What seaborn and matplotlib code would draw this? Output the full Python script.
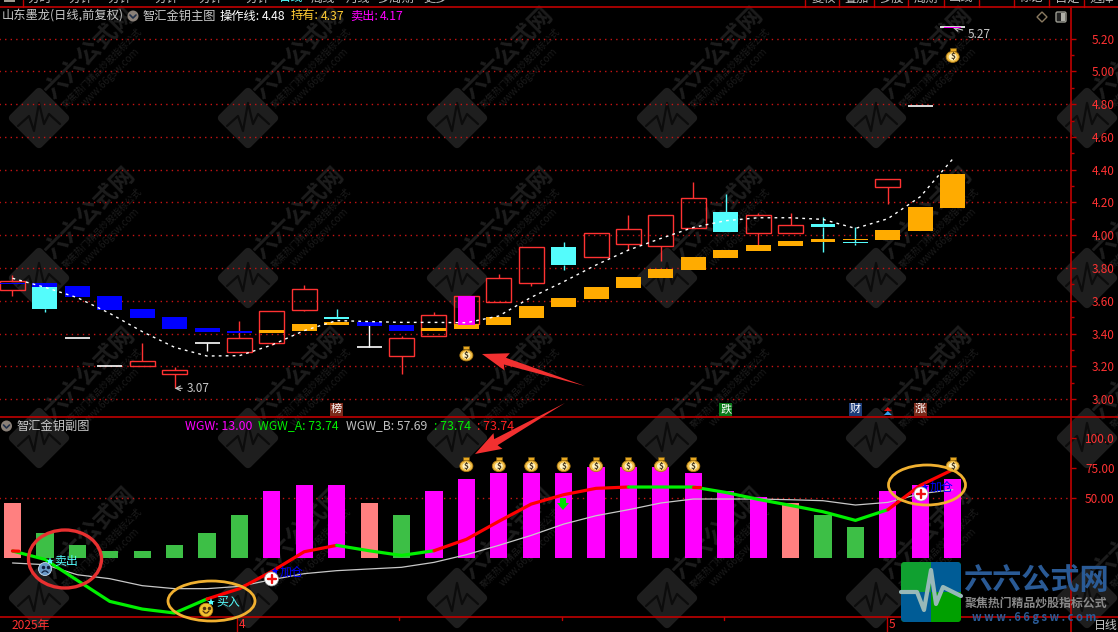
import itertools
import numpy as np
import pandas as pd
import matplotlib
matplotlib.use("Agg")
import matplotlib.pyplot as plt
from matplotlib.patches import Ellipse, Circle, Polygon, Rectangle, FancyBboxPatch
import seaborn as sns

sns.set_theme(style="dark")
plt.rcParams['font.family'] = ['Noto Sans CJK SC', 'DejaVu Sans']

# price panel values
days = list(range(30))
kline_top = [3.72, 3.687, 3.372, 3.201, 3.232, 3.177, 3.341, 3.372, 3.537, 3.671, 3.502, 3.317, 3.372, 3.512, 3.63,
             3.738, 3.927, 3.928, 4.011, 4.036, 4.121, 4.230, 4.145, 4.121, 4.060, 4.068, 3.959, 4.346, 4.787, 5.268]
kline_bottom = [3.669, 3.551, 3.372, 3.201, 3.205, 3.157, 3.341, 3.291, 3.346, 3.547, 3.49, 3.317, 3.266, 3.388, 3.459,
                3.596, 3.707, 3.819, 3.870, 3.949, 3.936, 4.046, 4.020, 4.016, 4.016, 4.050, 3.955, 4.295, 4.787, 5.268]
kline_high = [3.756, 3.687, 3.372, 3.201, 3.341, 3.195, 3.341, 3.478, 3.537, 3.697, 3.551, 3.46, 3.384, 3.530, 3.63,
              3.762, 3.927, 3.959, 4.011, 4.123, 4.121, 4.324, 4.251, 4.139, 4.133, 4.111, 4.048, 4.346, 4.787, 5.268]
kline_low = [3.63, 3.535, 3.372, 3.201, 3.205, 3.067, 3.295, 3.291, 3.331, 3.539, 3.49, 3.317, 3.157, 3.388, 3.459,
             3.596, 3.693, 3.788, 3.870, 3.910, 3.845, 4.046, 4.020, 3.941, 4.016, 3.898, 3.943, 4.192, 4.787, 5.268]
kline_kind = ["r", "c", "w", "w", "r", "r", "w", "r", "r", "r", "c", "w", "r", "r", "r",
              "r", "r", "c", "r", "r", "r", "r", "c", "r", "r", "c", "c", "r", "w", "w"]

band_top = [3.712, 3.707, 3.691, 3.630, 3.551, 3.502, 3.435, 3.417, 3.423, 3.459, 3.472, 3.472, 3.453, 3.435, 3.459,
            3.502, 3.569, 3.618, 3.685, 3.746, 3.795, 3.868, 3.910, 3.941, 3.965, 3.977, 3.977, 4.032, 4.172, 4.372]
band_bottom = [3.706, 3.685, 3.624, 3.545, 3.496, 3.429, 3.411, 3.404, 3.404, 3.417, 3.453, 3.447, 3.417, 3.417, 3.429,
               3.453, 3.496, 3.563, 3.612, 3.679, 3.740, 3.788, 3.861, 3.904, 3.934, 3.959, 3.971, 3.971, 4.026, 4.166]
band_kind = ["b", "b", "b", "b", "b", "b", "b", "b", "o", "o", "o", "b", "b", "o", "o",
             "o", "o", "o", "o", "o", "o", "o", "o", "o", "o", "o", "o", "o", "o", "o"]
sell_day = [14, 29]
sell_top = [3.630, 5.271]
sell_bottom = [3.453, 5.265]

oper_line = [3.738, 3.683, 3.620, 3.524, 3.413, 3.317, 3.264, 3.266, 3.331, 3.419, 3.480, 3.474, 3.469, 3.469, 3.467,
             3.508, 3.622, 3.717, 3.819, 3.910, 3.981, 4.048, 4.089, 4.107, 4.107, 4.097, 4.042, 4.101, 4.235, 4.465]

# indicator panel values
wgw_bars = [46, 21, 11, 6, 6, 11, 21, 36, 56, 61, 61, 46, 36, 56, 66, 71, 71, 71, 76, 76, 76, 71, 56, 51, 46, 36, 26, 56, 61, 66]
wgw_kind = ["s", "g", "g", "g", "g", "g", "g", "g", "m", "m", "m", "s", "g", "m", "m",
            "m", "m", "m", "m", "m", "m", "m", "m", "m", "s", "g", "g", "m", "m", "m"]
wgw_a = [5.6, -1.4, -18.9, -36.4, -42.8, -46.1, -34.4, -25.8, -11.4, 5, 10.3, 5.8, 1.9, 5.8, 15.3,
         30.3, 44.7, 52.5, 57.8, 58.9, 58.9, 58.9, 54.4, 48.6, 43.6, 38.3, 31.1, 40, 60.3, 73.3]
wgw_a_seg = ["g"] * 6 + ["r"] * 4 + ["g"] * 3 + ["r"] * 6 + ["g"] * 8 + ["r"] * 2
wgw_b = [-4.4, -5.8, -14.2, -17.5, -23.3, -25.8, -25.8, -23.9, -18.3, -13.3, -10.8, -9.4, -8, -3.9, 2.5,
         10.3, 18.6, 28, 35, 40, 45.6, 48.9, 48.9, 48.9, 48.3, 47.5, 43.9, 46.1, 53.3, 56.7]
bag_days = [15, 16, 17, 18, 19, 20, 21, 14, 29]
bag_value = 78

price_ticks = [3.0, 3.2, 3.4, 3.6, 3.8, 4.0, 4.2, 4.4, 4.6, 4.8, 5.0, 5.2]
price_minor = [3.1, 3.3, 3.5, 3.7, 3.9, 4.1, 4.3, 4.5, 4.7, 4.9, 5.1]
sub_ticks = [50, 75, 100]
sub_labels = ["50.00", "75.00", "100.0"]
top_left_tabs = ["分时", "分钟", "分钟", "分钟", "分钟", "分钟", "日线", "周线", "月线", "多周期", "更多"]
top_right_tabs = ["复权", "叠加", "多股", "周期", "画线", "标记", "自定", "选择"]

RED = "#ff3232"
DARKRED = "#c00000"
CYAN = "#54fcfc"
MAGENTA = "#ff00ff"
ORANGE = "#ffab00"
BLUE = "#0000ff"
W, H = 1118, 632

fig = plt.figure(figsize=(W / 100, H / 100), dpi=100, facecolor="black")


def add_px_axes(left, top, right, bottom, z):
    a = fig.add_axes([left / W, 1 - bottom / H, (right - left) / W, (bottom - top) / H], zorder=z)
    a.patch.set_alpha(0)
    return a


# background layer with the watermark
bg = add_px_axes(0, 0, W, H, 0)
bg.set_xlim(0, W)
bg.set_ylim(H, 0)
bg.axis("off")
for wx, wy in itertools.product([39, 248, 457, 667, 876, 1087], [118, 278, 438, 598]):
    bg.add_patch(Polygon([(wx - 26, wy), (wx, wy - 26), (wx + 26, wy), (wx, wy + 26)], fc="#1e1e1e", ec="#1e1e1e",
                         lw=6, joinstyle="round"))
    bg.plot([wx - 21, wx - 10, wx - 5, wx, wx + 5, wx + 10, wx + 21], [wy + 8, wy - 2, wy + 13, wy - 15, wy + 6, wy - 4, wy + 6],
            color="#0c0c0c", lw=1.6)
    bg.text(wx + 51, wy - 65, "六六公式网", color="#1d1d1d", fontsize=17, fontweight="bold", rotation=45,
            ha="center", va="center", rotation_mode="anchor")
    bg.text(wx + 63, wy - 50, "聚焦热门精品炒股指标公式", color="#1d1d1d", fontsize=6.5, rotation=45,
            ha="center", va="center", rotation_mode="anchor")
    bg.text(wx + 72, wy - 41, "www.66gsw.com", color="#1a1a1a", fontsize=7, rotation=45,
            ha="center", va="center", rotation_mode="anchor")

# price panel
ax = add_px_axes(0, 7, 1071, 417, 1)
kcolor = {"r": RED, "c": CYAN, "w": "white"}
for d, t, b, h, l, k in zip(days, kline_top, kline_bottom, kline_high, kline_low, kline_kind):
    col = kcolor[k]
    ax.vlines(d, t, h, color=col, lw=1, zorder=2)
    ax.vlines(d, l, b, color=col, lw=1, zorder=2)
    if k == "r":
        ax.bar(d, t - b, 0.77, bottom=b, facecolor="none", edgecolor=col, lw=1, zorder=3)
    elif k == "c":
        ax.bar(d, max(t - b, 0.004), 0.77, bottom=b, color=col, lw=0, zorder=3)
    else:
        ax.hlines(t, d - 0.385, d + 0.385, color=col, lw=1.2, zorder=3)
ax.bar(days, np.array(band_top) - np.array(band_bottom), 0.77, bottom=band_bottom,
       color=[BLUE if k == "b" else ORANGE for k in band_kind], lw=0, zorder=4)
ax.bar(sell_day, np.array(sell_top) - np.array(sell_bottom), 0.52, bottom=sell_bottom, color=MAGENTA, lw=0, zorder=5)
sns.lineplot(x=days, y=oper_line, color="white", lw=1, linestyle=(0, (2, 3)), ax=ax, zorder=6, legend=False, errorbar=None)
ax.annotate("3.07", xy=(5, 3.067), xytext=(5.38, 3.067), color="#c8c8c8", fontsize=8.5, va="center",
            arrowprops=dict(arrowstyle="->", color="#c8c8c8", lw=0.8, shrinkA=1, shrinkB=0))
ax.annotate("5.27", xy=(29, 5.268), xytext=(29.45, 5.225), color="#c8c8c8", fontsize=8.5, va="center",
            arrowprops=dict(arrowstyle="->", color="#c8c8c8", lw=0.8, shrinkA=1, shrinkB=0))
ax.set_ylim(5.2 - (417 - 38.5) / 164, 5.2 + (38.5 - 7) / 164)
ax.set_xlim(-12.5 / 32.42, (1071 - 12.5) / 32.42)
ax.set_yticks(price_ticks)
ax.set_yticklabels(["%.2f" % v for v in price_ticks])
ax.set_yticks(price_minor, minor=True)

# indicator panel
sub = add_px_axes(0, 417, 1071, 617, 1)
bars = pd.DataFrame({"day": days, "value": wgw_bars, "kind": wgw_kind})
sns.barplot(data=bars, x="day", y="value", hue="kind", palette={"s": "#ff8080", "g": "#3dbf46", "m": MAGENTA},
            native_scale=True, dodge=False, width=0.53, legend=False, ax=sub, linewidth=0, saturation=1, zorder=2)
sns.lineplot(x=days, y=wgw_b, color="#c8c8c8", lw=0.9, ax=sub, zorder=3, legend=False, errorbar=None)
pos = 0
for seg, group in itertools.groupby(wgw_a_seg):
    n = len(list(group))
    sns.lineplot(x=days[pos:pos + n + 1], y=wgw_a[pos:pos + n + 1], color="#00f000" if seg == "g" else "#ff0000",
                 lw=2.3, ax=sub, zorder=4, legend=False, errorbar=None)
    pos += n
sub.plot([0, 0.2], [wgw_a[0], wgw_a[0] - 0.2], color="#ff0000", lw=2.3, zorder=5)
sub.plot([21, 21.2], [wgw_a[21], wgw_a[21]], color="#ff0000", lw=2.3, zorder=5)
sub.set_ylim((557.7 - 617) / 1.2, (557.7 - 417) / 1.2)
sub.set_xlim(-12.5 / 32.42, (1071 - 12.5) / 32.42)
sub.set_yticks(sub_ticks)
sub.set_yticklabels(sub_labels)
sub.set_xlabel("")
sub.set_ylabel("")

for a, pad in ((ax, 11.5), (sub, 6.5)):
    a.yaxis.tick_right()
    a.tick_params(axis="y", which="major", colors=DARKRED, labelcolor=RED, labelsize=8.5, length=3.6, width=1, pad=pad, right=True)
    a.tick_params(axis="y", which="minor", colors=DARKRED, length=2.5, width=1, right=True)
    a.set_xticks([])
    for s in a.spines.values():
        s.set_visible(False)
    a.grid(False)
ax.hlines(price_ticks, -1, 33, color="#c81414", lw=1, linestyle=(0, (1, 3)), zorder=1)
sub.hlines([50], -1, 33, color="#c81414", lw=1, linestyle=(0, (1, 3)), zorder=1)

# front layer: frame, header text, icons, hand drawn marks, in pixels
fr = add_px_axes(0, 0, W, H, 2)
fr.set_xlim(0, W)
fr.set_ylim(H, 0)
fr.axis("off")


def px(a, x, y):
    p = a.transData.transform((x, y))
    return p[0], H - p[1]


def put(x, y, s, col, size=8.8, ha="left", **kw):
    return fr.text(x, y, s, color=col, fontsize=size, ha=ha, va="center", **kw)


def bag(x, y):
    fr.add_patch(Rectangle((x - 3, y - 7), 6, 3, fc="#e8a820", ec="#7a5a10", lw=0.4, zorder=6))
    fr.add_patch(Ellipse((x, y + 2), 13, 11, fc="#f2c04a", ec="#b07a10", lw=0.6, zorder=6))
    fr.add_patch(Ellipse((x, y + 2), 8, 7, fc="#fff2c0", ec="none", zorder=6))
    fr.text(x, y + 2, "$", color="#4a3a20", fontsize=6, fontweight="bold", ha="center", va="center", zorder=7)


def arrow(x0, y0, x1, y1):
    ang = np.arctan2(y1 - y0, x1 - x0)
    ux, uy = np.cos(ang), np.sin(ang)
    nx, ny = -uy, ux
    nk = 24
    pts = [(x0, y0), (x1 - ux * nk + nx * 3.5, y1 - uy * nk + ny * 3.5), (x1 - ux * nk * 1.1 + nx * 9, y1 - uy * nk * 1.1 + ny * 9),
           (x1, y1), (x1 - ux * nk * 1.1 - nx * 9, y1 - uy * nk * 1.1 - ny * 9), (x1 - ux * nk - nx * 3.5, y1 - uy * nk - ny * 3.5)]
    fr.add_patch(Polygon(pts, fc="#f23030", ec="none", zorder=6))


def plus(x, y):
    fr.add_patch(Circle((x, y), 7, fc="white", ec="#999999", lw=0.5, zorder=7))
    fr.plot([x - 4, x + 4], [y, y], color="#f01010", lw=1.7, zorder=8)
    fr.plot([x, x], [y - 4, y + 4], color="#f01010", lw=1.7, zorder=8)


def star(x, y, col):
    fr.plot([x], [y], marker="*", ms=6, color=col, mew=0, zorder=7)


def tag(x, s, col):
    fr.add_patch(Rectangle((x - 6.5, 402.5), 13, 13, fc=col, ec="none", zorder=5))
    fr.text(x, 409, s, color="white", fontsize=8, ha="center", va="center", zorder=6)


# frame
for yy in (7, 417, 617):
    fr.plot([0, W], [yy, yy], color=DARKRED, lw=1.2)
fr.plot([1071, 1071], [7, H], color=DARKRED, lw=1.2)
fr.plot([22.5, 22.5], [0, 7], color=DARKRED, lw=1)
for xx in (805, 839, 874, 908, 944, 979, 1014, 1049, 1084):
    fr.plot([xx, xx], [0, 7], color=DARKRED, lw=1)
fr.add_patch(Rectangle((4, 0), 11, 1.5, fc="#a09a90", ec="none"))

# top tab strip, only the bottom of the text shows
tab_x = [27, 68, 107, 154, 198, 245, 279, 311, 346, 377, 423]
for x, s in zip(tab_x, top_left_tabs):
    put(x, -2, s, CYAN if s == "日线" else "#c0c0c0")
for x, s in zip([812, 844, 879, 914, 949, 1019, 1055, 1089], top_right_tabs):
    put(x, -2, s, "#c0c0c0")

# header of the price panel
put(2, 16, "山东墨龙(日线,前复权)", "#c8c8c8")
fr.add_patch(Circle((133, 16), 5.5, fc="#8a8078", ec="none"))
fr.plot([130, 133, 136], [15, 18, 15], color="#20304a", lw=1.2)
put(143, 16, "智汇金钥主图", "#c8c8c8")
put(220, 16, "操作线:", "white")
put(262, 16, "4.48", "white")
put(291, 16, "持有:", "#ffcc33")
put(321, 16, "4.37", "#ffcc33")
put(350, 16, "卖出:", MAGENTA)
put(380, 16, "4.17", MAGENTA)
fr.add_patch(Polygon([(1042, 12), (1047, 17), (1042, 22), (1037, 17)], fc="none", ec="#8a7a60", lw=1))
fr.add_patch(FancyBboxPatch((1056, 12), 10, 10, boxstyle="round,pad=0,rounding_size=1.5", fc="#222222", ec="#9a9a90", lw=1))
fr.add_patch(Rectangle((1061, 13), 4, 8, fc="#b0b0a8", ec="none"))

# header of the indicator panel
fr.add_patch(Circle((6.5, 426), 5.5, fc="#8a8078", ec="none"))
fr.plot([3.5, 6.5, 9.5], [425, 428, 425], color="#20304a", lw=1.2)
put(17, 426, "智汇金钥副图", "#c8c8c8")
put(185, 426, "WGW: 13.00", MAGENTA, 8.9)
put(258, 426, "WGW_A: 73.74", "#00f000", 8.8)
put(346, 426, "WGW_B: 57.69", "#c0c0c0", 8.8)
put(434, 426, ": 73.74", "#00f000", 8.9)
put(477, 426, ": 73.74", "#ff2020", 8.9)

# money bags
bag(*px(ax, 14, 3.28))
bag(*px(ax, 29, 5.10))
for d in bag_days:
    bag(*px(sub, d, bag_value))

# event tags under the price panel
tag(px(ax, 10, 3)[0], "榜", "#7a2a1a")
tag(px(ax, 22, 3)[0], "跌", "#0a7a1a")
tag(px(ax, 26, 3)[0], "财", "#1d3d7a")
tag(px(ax, 28, 3)[0], "涨", "#7a2a1a")
tx = px(ax, 27, 3)[0]
fr.add_patch(Polygon([(tx, 407), (tx + 4, 411), (tx - 4, 411)], fc="#e01010", ec="none"))
fr.add_patch(Polygon([(tx, 411), (tx + 4, 415), (tx - 4, 415)], fc="#30a0f0", ec="none"))

# big red arrows and hand drawn ovals
arrow(585, 386, 482, 354)
arrow(565, 403, 475, 454)
fr.add_patch(Ellipse((65, 559), 73, 58, fc="none", ec="#e83030", lw=2.4, zorder=6))
fr.add_patch(Ellipse((211.5, 601), 87, 40, fc="none", ec="#f0b030", lw=2, zorder=6))
fr.add_patch(Ellipse((927, 485), 77, 40, fc="none", ec="#f0b030", lw=2, zorder=6))

# signal labels
star(50, 561, CYAN)
put(54, 561, "卖出", CYAN, 8.6, zorder=7)
fr.add_patch(Circle((45, 569), 6.5, fc="#6a9ac8", ec="#c8dcf0", lw=0.6, zorder=7))
fr.plot([42, 44, 46, 48], [572.5, 571, 571, 572.5], color="#102040", lw=0.9, zorder=8)
fr.plot([42.5, 47.5], [566.5, 566.5], color="#102040", lw=0, marker="o", ms=1.5, zorder=8)
star(211, 602, CYAN)
put(216, 602, "买入", CYAN, 8.6, zorder=7)
fr.add_patch(Circle((206, 610), 6.8, fc="#f2c030", ec="#c08010", lw=0.5, zorder=7))
fr.plot([203.5, 208.5], [607.5, 607.5], color="#503010", lw=0, marker="o", ms=1.5, zorder=8)
fr.plot([203, 205, 207, 209], [611, 613, 613, 611], color="#503010", lw=0.9, zorder=8)
star(275, 571, BLUE)
put(280, 572, "加仓", BLUE, 8.6, zorder=7)
plus(271.5, 579)
star(925, 487, BLUE)
put(930, 487, "加仓", BLUE, 8.6, zorder=7)
plus(921, 494)
fr.add_patch(Polygon([(560, 498), (566, 498), (566, 503), (569, 503), (563, 510), (557, 503), (560, 503)], fc="#00e000", ec="none", zorder=7))

# time axis
put(12, 625, "2025年", RED, 8.6)
put(238.5, 625, "4", RED, 8.6)
put(889, 625, "5", RED, 8.6)
fr.plot([237, 237], [617, H], color=DARKRED, lw=1)
fr.plot([887, 887], [617, H], color=DARKRED, lw=1)
for xx in (399, 562, 724):
    fr.plot([xx, xx], [617, 620], color=DARKRED, lw=1)
put(1094, 625, "日线", "#c8c8c8", 8.6)

# logo bottom right
box = FancyBboxPatch((901, 562), 60, 60, boxstyle="round,pad=0,rounding_size=4", fc="#00a000", ec="none", zorder=6)
fr.add_patch(box)
for rx, ry, rc in ((901, 562, "#10a030"), (931, 562, "#005c96"), (901, 592, "#005c96"), (931, 592, "#00a000")):
    r = Rectangle((rx, ry), 30, 30, fc=rc, ec="none", zorder=7)
    fr.add_patch(r)
    r.set_clip_path(box)
fr.plot([901, 917, 924, 931, 936, 943, 961], [592, 592, 610, 570, 604, 587, 596], color="#98b8b8", lw=3, zorder=8)
put(1036, 580, "六六公式网", "#2a5a95", 21, ha="center", fontweight="bold", zorder=8)
put(1036, 603, "聚焦热门精品炒股指标公式", "#8a8a8a", 8.6, ha="center", fontweight="bold", zorder=8)
put(1034, 618, "w w w . 6 6 g s w . c o m", "#2a5a95", 8, ha="center", fontweight="bold", zorder=8)

fig.savefig("out.png", dpi=100, facecolor="black")
